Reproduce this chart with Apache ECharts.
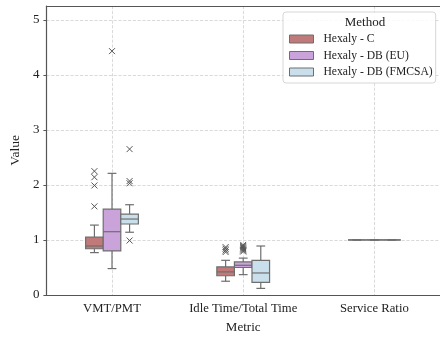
<!DOCTYPE html>
<html>
<head>
<meta charset="utf-8">
<script src="https://cdn.jsdelivr.net/npm/echarts@6/dist/echarts.min.js"></script>
<style>
  html, body { margin: 0; padding: 0; background: #fff; }
  #chart { width: 440px; height: 339px; }
</style>
</head>
<body>
<div id="chart"></div>
<script>
const metrics = ['VMT/PMT', 'Idle Time/Total Time', 'Service Ratio']
const methods = ['Hexaly - C', 'Hexaly - DB (EU)', 'Hexaly - DB (FMCSA)']
const yTicks = [0, 1, 2, 3, 4, 5]

// [low whisker, q1, median, q3, high whisker] per metric
const boxesC = [[0.77, 0.84, 0.89, 1.05, 1.27], [0.25, 0.35, 0.42, 0.51, 0.63], [1, 1, 1, 1, 1]]
const boxesEU = [[0.48, 0.80, 1.15, 1.56, 2.21], [0.37, 0.50, 0.54, 0.60, 0.67], [1, 1, 1, 1, 1]]
const boxesFMCSA = [[1.14, 1.29, 1.38, 1.47, 1.64], [0.12, 0.23, 0.40, 0.63, 0.89], [1, 1, 1, 1, 1]]

// [metric index, value]
const outliersC = [[0, 2.25], [0, 2.14], [0, 1.99], [0, 1.61], [1, 0.87], [1, 0.84], [1, 0.81], [1, 0.78]]
const outliersEU = [[0, 4.43], [1, 0.91], [1, 0.89], [1, 0.87], [1, 0.85], [1, 0.83], [1, 0.81], [1, 0.79]]
const outliersFMCSA = [[0, 2.65], [0, 2.07], [0, 2.03], [0, 0.99]]

const colors = ['#c07a7a', '#c9a3d9', '#c9e0ec']
const edge = '#6e6e6e'
const font = '"Liberation Serif", "Times New Roman", serif'
const boxFrac = 0.134

const boxSeries = (name, color, boxes, idx) => ({
  name,
  type: 'custom',
  itemStyle: { color, borderColor: edge, borderWidth: 1 },
  encode: { x: 0, y: [1, 2, 3, 4, 5] },
  data: boxes.map((b, i) => [i, ...b]),
  z: 3,
  renderItem: (params, api) => {
    const band = api.size([1, 0])[0]
    const w = band * boxFrac
    const cat = api.value(0)
    const cx = api.coord([cat, 0])[0] + (idx - 1) * w
    const y = (k) => api.coord([cat, api.value(k)])[1]
    const line = (x1, y1, x2, y2) => ({
      type: 'line',
      shape: { x1, y1, x2, y2 },
      style: { stroke: edge, lineWidth: 1.2 },
    })
    return {
      type: 'group',
      children: [
        line(cx, y(1), cx, y(2)),
        line(cx, y(4), cx, y(5)),
        line(cx - w / 4, y(1), cx + w / 4, y(1)),
        line(cx - w / 4, y(5), cx + w / 4, y(5)),
        {
          type: 'rect',
          shape: { x: cx - w / 2, y: y(4), width: w, height: y(2) - y(4) },
          style: { fill: color, stroke: edge, lineWidth: 1.2 },
        },
        line(cx - w / 2, y(3), cx + w / 2, y(3)),
      ],
    }
  },
})

const outlierSeries = (name, points, idx) => ({
  name,
  type: 'custom',
  encode: { x: 0, y: 1 },
  data: points,
  z: 4,
  renderItem: (params, api) => {
    const band = api.size([1, 0])[0]
    const w = band * boxFrac
    const p = api.coord([api.value(0), api.value(1)])
    const cx = p[0] + (idx - 1) * w
    const s = 3
    const st = { stroke: '#555', lineWidth: 1 }
    return {
      type: 'group',
      children: [
        { type: 'line', shape: { x1: cx - s, y1: p[1] - s, x2: cx + s, y2: p[1] + s }, style: st },
        { type: 'line', shape: { x1: cx - s, y1: p[1] + s, x2: cx + s, y2: p[1] - s }, style: st },
      ],
    }
  },
})

const chart = echarts.init(document.getElementById('chart'))
chart.setOption({
  animation: false,
  textStyle: { fontFamily: font },
  title: {
    text: 'Method',
    left: 360,
    top: 11,
    textAlign: 'center',
    textStyle: { fontFamily: font, fontSize: 13, fontWeight: 'normal', color: '#222' },
  },
  legend: {
    data: methods,
    orient: 'vertical',
    left: 283,
    top: 12,
    padding: [20, 3, 4, 6],
    itemWidth: 24,
    itemHeight: 8,
    itemGap: 2.5,
    icon: 'rect',
    backgroundColor: 'rgba(255,255,255,0.85)',
    borderColor: '#d6d6d6',
    borderWidth: 1,
    borderRadius: 3,
    itemStyle: { borderColor: edge, borderWidth: 1 },
    textStyle: { fontFamily: font, fontSize: 11.6, color: '#222', lineHeight: 14, padding: [0, 0, 0, 5] },
  },
  grid: { left: 41, top: 6, width: 402, bottom: 34 },
  xAxis: [
    {
      type: 'category',
      data: metrics,
      name: 'Metric',
      nameLocation: 'middle',
      nameGap: 26,
      nameTextStyle: { fontFamily: font, fontSize: 13, color: '#222' },
      axisLine: { lineStyle: { color: '#555', width: 1.2 } },
      axisTick: { alignWithLabel: true, length: 3, lineStyle: { color: '#555' } },
      axisLabel: { interval: 0, fontFamily: font, fontSize: 12.7, color: '#222', margin: 7 },
      splitLine: { show: true, alignWithLabel: true, lineStyle: { color: '#d0d0d0', type: 'dashed', width: 0.8 } },
    },
    {
      type: 'category',
      data: metrics,
      position: 'top',
      axisLine: { lineStyle: { color: '#555', width: 1.2 } },
      axisTick: { show: false },
      axisLabel: { show: false },
      splitLine: { show: false },
    },
  ],
  yAxis: {
    type: 'value',
    min: 0,
    max: 5.25,
    interval: 1,
    name: 'Value',
    nameLocation: 'middle',
    nameGap: 19,
    nameTextStyle: { fontFamily: font, fontSize: 13.5, color: '#222' },
    axisLine: { show: true, lineStyle: { color: '#555', width: 1.2 } },
    axisTick: { show: true, length: 3, lineStyle: { color: '#555' } },
    axisLabel: {
      fontFamily: font,
      fontSize: 13,
      color: '#222',
      margin: 7,
      showMaxLabel: false,
      formatter: (v) => (yTicks.includes(v) ? String(v) : ''),
    },
    splitLine: { show: true, lineStyle: { color: '#d0d0d0', type: 'dashed', width: 0.8 } },
  },
  series: [
    boxSeries(methods[0], colors[0], boxesC, 0),
    boxSeries(methods[1], colors[1], boxesEU, 1),
    boxSeries(methods[2], colors[2], boxesFMCSA, 2),
    outlierSeries(methods[0], outliersC, 0),
    outlierSeries(methods[1], outliersEU, 1),
    outlierSeries(methods[2], outliersFMCSA, 2),
  ],
})
</script>
</body>
</html>
